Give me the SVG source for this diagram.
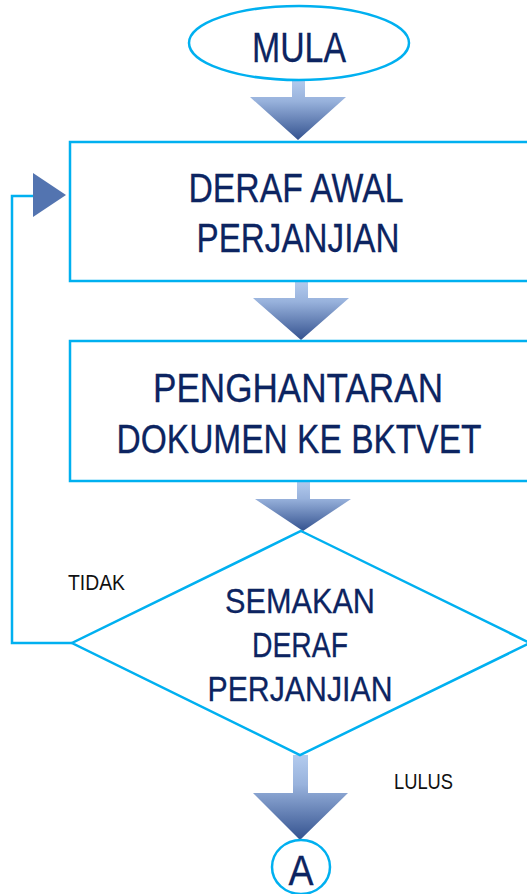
<svg xmlns="http://www.w3.org/2000/svg" width="527" height="894" viewBox="0 0 527 894">
<defs>
<linearGradient id="ag" x1="0" y1="0" x2="0" y2="1">
<stop offset="0" stop-color="#b3cbee"/>
<stop offset="0.35" stop-color="#98b2dc"/>
<stop offset="1" stop-color="#34528f"/>
</linearGradient>
<style>
.s{fill:#fff;stroke:#00b0f0;stroke-width:2.5}
.ln{fill:none;stroke:#00b0f0;stroke-width:2.5}
.t{font-family:"Liberation Sans",Arial,sans-serif;fill:#0c2461;stroke:#0c2461;stroke-width:0.3;text-anchor:middle}
.l{font-family:"Liberation Sans",Arial,sans-serif;fill:#111;font-size:22px}
.ar{fill:url(#ag)}
</style>
</defs>
<rect width="527" height="894" fill="#fff"/>
<g id="connectors">
<polyline class="ln" points="72,643 12,643 12,196 33,196"/>
<polygon points="33,173 33,217 66,195" fill="#5374b0"/>
<path class="ar" d="M292,80 H305 V97 H346 L298,140 L250,97 H292 Z"/>
<path class="ar" d="M295,281 H308 V298 H349 L301,340 L253,298 H295 Z"/>
<path class="ar" d="M297,481 H310 V499 H351 L303,531 L255,499 H297 Z"/>
<path class="ar" d="M293,755 H308 V793 H348 L300,840 L253,793 H293 Z"/>
<text class="l" x="68" y="590" textLength="57" lengthAdjust="spacingAndGlyphs">TIDAK</text>
<text class="l" x="394" y="789" textLength="59" lengthAdjust="spacingAndGlyphs">LULUS</text>
</g>
<g id="mula">
<ellipse class="s" cx="299" cy="43" rx="110" ry="37"/>
<text class="t" x="299" y="62" font-size="42" textLength="94" lengthAdjust="spacingAndGlyphs">MULA</text>
</g>
<g id="deraf">
<rect class="s" x="70" y="142" width="480" height="139"/>
<text class="t" x="296" y="202" font-size="40" textLength="215" lengthAdjust="spacingAndGlyphs">DERAF AWAL</text>
<text class="t" x="298" y="252" font-size="40" textLength="203" lengthAdjust="spacingAndGlyphs">PERJANJIAN</text>
</g>
<g id="penghantaran">
<rect class="s" x="70" y="341" width="480" height="140"/>
<text class="t" x="298" y="402" font-size="40" textLength="290" lengthAdjust="spacingAndGlyphs">PENGHANTARAN</text>
<text class="t" x="299" y="453" font-size="40" textLength="365" lengthAdjust="spacingAndGlyphs">DOKUMEN KE BKTVET</text>
</g>
<g id="semakan">
<polygon class="s" points="301,531 530,643 300,755 72,643"/>
<text class="t" x="300" y="613" font-size="35" textLength="150" lengthAdjust="spacingAndGlyphs">SEMAKAN</text>
<text class="t" x="300" y="657" font-size="35" textLength="96" lengthAdjust="spacingAndGlyphs">DERAF</text>
<text class="t" x="300" y="701" font-size="35" textLength="185" lengthAdjust="spacingAndGlyphs">PERJANJIAN</text>
</g>
<g id="a">
<ellipse class="s" cx="301" cy="867" rx="29" ry="27"/>
<text class="t" x="301" y="885" font-size="42" textLength="25" lengthAdjust="spacingAndGlyphs">A</text>
</g>
</svg>
